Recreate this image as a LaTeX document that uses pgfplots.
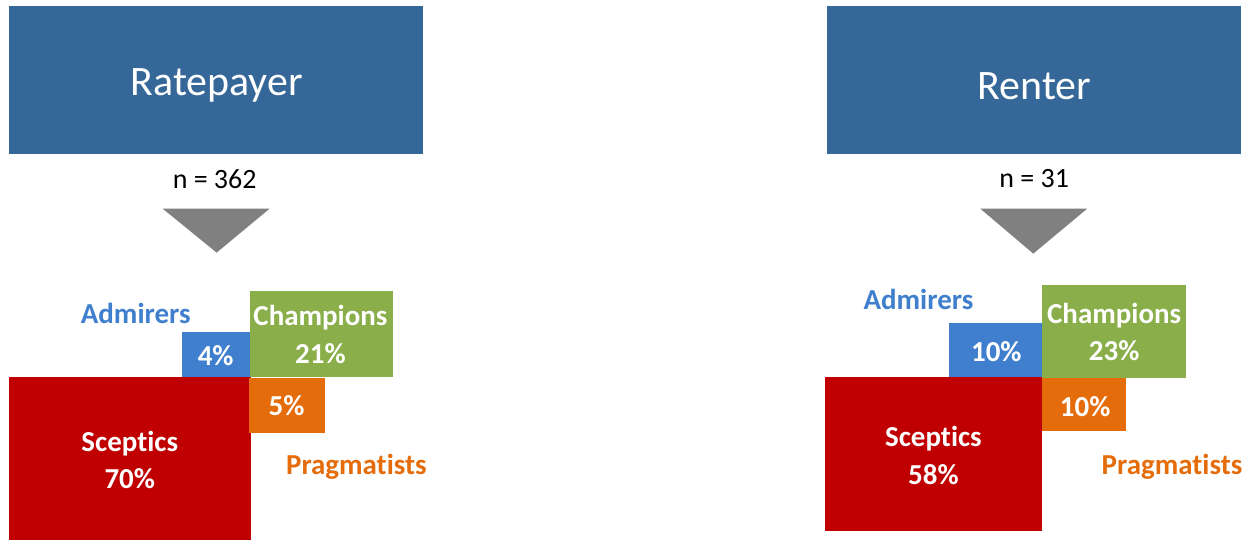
\documentclass[border=0pt]{standalone}
\usepackage{pgfplots}
\pgfplotsset{compat=1.18}
\usepackage{fontspec}
\setmainfont{Carlito}[Ligatures=NoCommon]
\definecolor{hdr}{HTML}{356798}
\definecolor{adm}{HTML}{3F7FCE}
\definecolor{cha}{HTML}{8AAE4A}
\definecolor{pra}{HTML}{E46C0A}
\definecolor{sce}{HTML}{C00000}
\definecolor{tri}{HTML}{808080}
\newcommand{\fbig}{\fontsize{21}{25}\selectfont}
\newcommand{\fmid}{\fontsize{14}{17}\selectfont}
\newcommand{\flab}{\fontsize{14.5}{17}\selectfont\bfseries}
\begin{document}
\begin{tikzpicture}
\begin{axis}[
  scale only axis, width=624.5pt, height=270.5pt,
  xmin=0, xmax=1249, ymin=0, ymax=541, y dir=reverse,
  axis lines=none, clip=false,
  every node/.append style={inner sep=0pt, anchor=base},
]
\path (rel axis cs:0,0) rectangle (rel axis cs:1,1);
% ---------- Ratepayer ----------
\addplot[fill=hdr, draw=none] coordinates {(9,6) (424,6) (424,154) (9,154)};
\addplot[fill=tri, draw=none] coordinates {(163,209) (270,209) (217,253)};
\addplot[fill=sce, draw=none] coordinates {(9,378) (251,378) (251,541) (9,541)};
\addplot[fill=adm, draw=none] coordinates {(182,332) (250,332) (250,378) (182,378)};
\addplot[fill=cha, draw=none] coordinates {(250,291) (394,291) (394,378) (250,378)};
\addplot[fill=pra, draw=none] coordinates {(249,379) (326,379) (326,434) (249,434)};
\node[white] at (axis cs:217,86) {\fbig Ratepayer};
\node at (axis cs:215,179) {\fmid n = 362};
\node[adm] at (axis cs:136,314) {\flab Admirers};
\node[white] at (axis cs:321,318) {\flab Champions};
\node[white] at (axis cs:321,354) {\flab 21\%};
\node[white] at (axis cs:216,356) {\flab 4\%};
\node[white] at (axis cs:287,406) {\flab 5\%};
\node[white] at (axis cs:130,444) {\flab Sceptics};
\node[white] at (axis cs:130,479) {\flab 70\%};
\node[pra] at (axis cs:357,467) {\flab Pragmatists};
% ---------- Renter ----------
\addplot[fill=hdr, draw=none] coordinates {(828,6) (1243,6) (1243,154) (828,154)};
\addplot[fill=tri, draw=none] coordinates {(982,209) (1089,209) (1035,254)};
\addplot[fill=sce, draw=none] coordinates {(826,378) (1044,378) (1044,532) (826,532)};
\addplot[fill=adm, draw=none] coordinates {(951,323) (1044,323) (1044,378) (951,378)};
\addplot[fill=cha, draw=none] coordinates {(1044,285) (1188,285) (1188,379) (1044,379)};
\addplot[fill=pra, draw=none] coordinates {(1044,379) (1128,379) (1128,432) (1044,432)};
\node[white] at (axis cs:1036,86) {\fbig Renter};
\node at (axis cs:1036,179) {\fmid n = 31};
\node[adm] at (axis cs:920,300) {\flab Admirers};
\node[white] at (axis cs:1116,316) {\flab Champions};
\node[white] at (axis cs:1116,351) {\flab 23\%};
\node[white] at (axis cs:998,352) {\flab 10\%};
\node[white] at (axis cs:1087,407) {\flab 10\%};
\node[white] at (axis cs:935,439) {\flab Sceptics};
\node[white] at (axis cs:935,475) {\flab 58\%};
\node[pra] at (axis cs:1174,467) {\flab Pragmatists};
\end{axis}
\end{tikzpicture}
\end{document}
